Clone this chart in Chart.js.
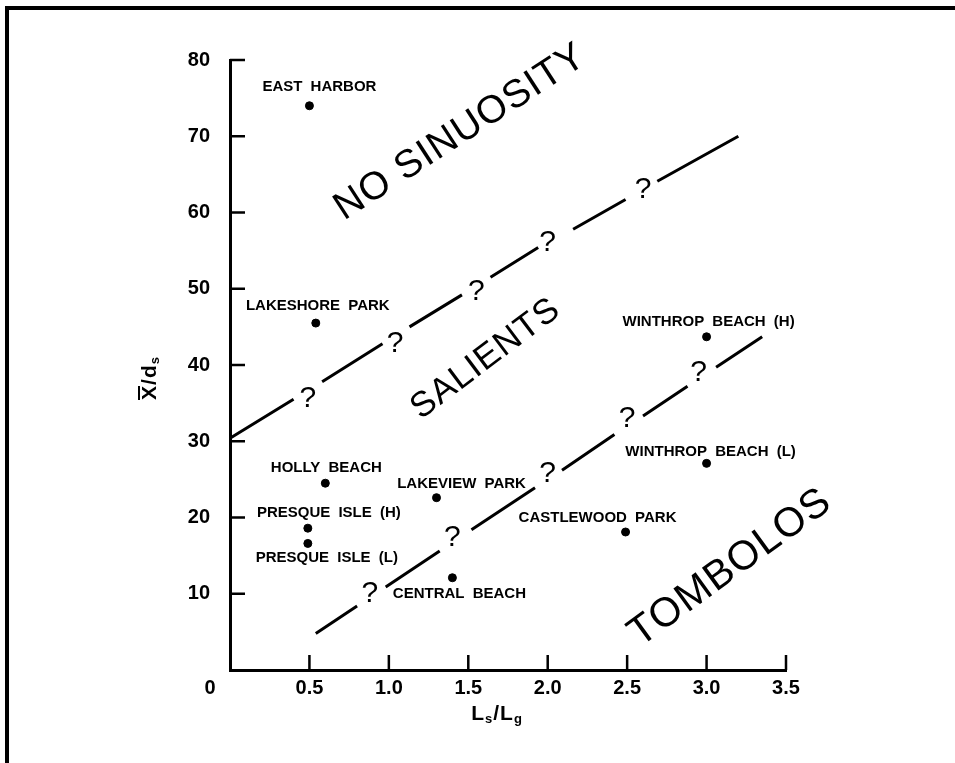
<!DOCTYPE html>
<html>
<head>
<meta charset="UTF-8">
<title>Salients and tombolos</title>
<script src="https://cdn.jsdelivr.net/npm/chart.js@4.4.1/dist/chart.umd.min.js"></script>
<style>
  html, body { margin: 0; padding: 0; background: #fff; }
  #wrap { position: relative; width: 955px; height: 763px; }
</style>
</head>
<body>
<div id="wrap"><canvas id="shoreChart"></canvas></div>
<script>
// values
var siteNames = ['EAST HARBOR', 'LAKESHORE PARK', 'HOLLY BEACH', 'PRESQUE ISLE (H)', 'PRESQUE ISLE (L)',
                 'LAKEVIEW PARK', 'CENTRAL BEACH', 'CASTLEWOOD PARK', 'WINTHROP BEACH (H)', 'WINTHROP BEACH (L)'];
var siteLsLg = [0.5, 0.54, 0.6, 0.49, 0.49, 1.3, 1.4, 2.49, 3.0, 3.0];
var siteXds = [74, 45.5, 24.5, 18.6, 16.6, 22.6, 12.1, 18.1, 43.7, 27.1];

var xTicks = [0, 0.5, 1.0, 1.5, 2.0, 2.5, 3.0, 3.5];
var yTicks = [0, 10, 20, 30, 40, 50, 60, 70, 80];

// dashed boundaries (null = gap where a "?" sits)
var upperX = [0, 0.40, 0.45, 0.58, 0.96, 1.0, 1.13, 1.46, 1.5, 1.64, 1.94, 2.0, 2.16, 2.49, 2.55, 2.69, 3.2];
var upperY = [30.4, 35.5, null, 37.8, 42.8, null, 45.0, 49.2, null, 51.5, 55.4, null, 57.8, 61.7, null, 64.1, 70.0];
var lowerX = [0.54, 0.80, 0.85, 0.98, 1.32, 1.4, 1.52, 1.92, 2.0, 2.09, 2.42, 2.5, 2.60, 2.88, 2.95, 3.06, 3.35];
var lowerY = [4.8, 8.4, null, 10.9, 15.6, null, 18.4, 23.9, null, 26.2, 30.9, null, 33.3, 37.2, null, 39.7, 43.7];

var upperQX = [0.49, 1.04, 1.55, 2.0, 2.6];
var upperQY = [35.6, 42.8, 49.6, 56.0, 63.0];
var lowerQX = [0.88, 1.40, 2.0, 2.5, 2.95];
var lowerQY = [10.0, 17.3, 25.8, 33.0, 39.0];

var regionNames = ['NO SINUOSITY', 'SALIENTS', 'TOMBOLOS'];
var regionX = [1.45, 1.61, 3.15];
var regionY = [70.5, 40.8, 13.4];

// layout only: label offsets in px from each dot, region text sizes and angles
var labelDx = [10, 2, 1, 21, 19, 25, 7, -28, 2, 4];
var labelDy = [-19, -17, -15, -15, 14, -14, 16, -14, -15, -12];
var regionSize = [39, 35, 41];
var regionAngle = [-33, -37, -36];

function pairs(xs, ys) {
    return xs.map(function (x, i) { return { x: x, y: ys[i] }; });
}

var tickFont = { family: '"Liberation Sans", Arial, sans-serif', size: 20, weight: 'bold' };

var overlay = {
    id: 'overlay',
    beforeDraw: function (chart) {
        var ctx = chart.ctx;
        ctx.save();
        ctx.fillStyle = '#fff';
        ctx.fillRect(0, 0, chart.width, chart.height);
        ctx.restore();
    },
    afterDraw: function (chart) {
        var ctx = chart.ctx, xs = chart.scales.x, ys = chart.scales.y, area = chart.chartArea;
        ctx.save();
        ctx.strokeStyle = '#000';
        ctx.fillStyle = '#000';

        // page frame (top and left only)
        ctx.lineWidth = 4;
        ctx.beginPath();
        ctx.moveTo(7, chart.height);
        ctx.lineTo(7, 8);
        ctx.lineTo(chart.width, 8);
        ctx.stroke();

        // inward tick marks
        ctx.lineWidth = 2.5;
        ctx.beginPath();
        xTicks.forEach(function (v) {
            if (v === 0) return;
            var px = xs.getPixelForValue(v);
            ctx.moveTo(px, area.bottom);
            ctx.lineTo(px, area.bottom - 15);
        });
        yTicks.forEach(function (v) {
            if (v === 0) return;
            var py = ys.getPixelForValue(v);
            ctx.moveTo(area.left, py);
            ctx.lineTo(area.left + 15, py);
        });
        ctx.stroke();

        // shared origin label
        ctx.font = 'bold 20px "Liberation Sans", Arial, sans-serif';
        ctx.textAlign = 'center';
        ctx.textBaseline = 'middle';
        ctx.fillText('0', xs.getPixelForValue(0) - 20, area.bottom + 18);

        // site labels
        ctx.font = 'bold 15px "Liberation Sans", Arial, sans-serif';
        ctx.wordSpacing = '4px';
        siteNames.forEach(function (name, i) {
            var px = xs.getPixelForValue(siteLsLg[i]);
            var py = ys.getPixelForValue(siteXds[i]);
            ctx.fillText(name, px + labelDx[i], py + labelDy[i]);
        });
        ctx.wordSpacing = '0px';

        // question marks in the boundary gaps
        ctx.font = '30px "Liberation Sans", Arial, sans-serif';
        function marks(qx, qy) {
            qx.forEach(function (v, i) {
                ctx.fillText('?', xs.getPixelForValue(v), ys.getPixelForValue(qy[i]));
            });
        }
        marks(upperQX, upperQY);
        marks(lowerQX, lowerQY);

        // region names
        ctx.letterSpacing = '1px';
        regionNames.forEach(function (name, i) {
            ctx.save();
            ctx.font = regionSize[i] + 'px "Liberation Sans", Arial, sans-serif';
            ctx.translate(xs.getPixelForValue(regionX[i]), ys.getPixelForValue(regionY[i]));
            ctx.rotate(regionAngle[i] * Math.PI / 180);
            ctx.fillText(name, 0, 0);
            ctx.restore();
        });
        ctx.letterSpacing = '0px';

        // axis titles with subscripts
        var big = 'bold 21px "Liberation Sans", Arial, sans-serif';
        var sub = 'bold 13px "Liberation Sans", Arial, sans-serif';
        function width(parts) {
            var total = 0;
            parts.forEach(function (p) { ctx.font = p[1]; total += ctx.measureText(p[0]).width + 1; });
            return total;
        }
        function drawParts(parts, cx, cy) {
            var x = cx - width(parts) / 2;
            ctx.textAlign = 'left';
            parts.forEach(function (p) {
                ctx.font = p[1];
                ctx.fillText(p[0], x, cy + p[2]);
                x += ctx.measureText(p[0]).width + 1;
            });
        }
        drawParts([['L', big, 0], ['s', sub, 5], ['/', big, 0], ['L', big, 0], ['g', sub, 5]], 497, 714);

        // y title: X-bar/ds, rotated
        var yParts = [['X', big, 0], ['/', big, 0], ['d', big, 0], ['s', sub, 5]];
        ctx.save();
        ctx.translate(150, 378);
        ctx.rotate(-Math.PI / 2);
        drawParts(yParts, 0, 0);
        var tw = width(yParts);
        ctx.font = big;
        var xw = ctx.measureText('X').width;
        ctx.lineWidth = 2;
        ctx.beginPath();
        ctx.moveTo(-tw / 2, -11);
        ctx.lineTo(-tw / 2 + xw, -11);
        ctx.stroke();
        ctx.restore();

        ctx.restore();
    }
};

function ready(fn) {
    if (document.readyState !== 'loading') fn();
    else document.addEventListener('DOMContentLoaded', fn);
}

ready(function () {
    var ctx = document.getElementById('shoreChart').getContext('2d');
    new Chart(ctx, {
        type: 'scatter',
        data: {
            datasets: [
                {
                    label: 'Sites',
                    data: pairs(siteLsLg, siteXds),
                    backgroundColor: '#000',
                    borderColor: '#000',
                    pointRadius: 4,
                    showLine: false
                },
                {
                    label: 'No sinuosity / salients',
                    data: pairs(upperX, upperY),
                    borderColor: '#000',
                    borderWidth: 3,
                    pointRadius: 0,
                    showLine: true,
                    spanGaps: false
                },
                {
                    label: 'Salients / tombolos',
                    data: pairs(lowerX, lowerY),
                    borderColor: '#000',
                    borderWidth: 3,
                    pointRadius: 0,
                    showLine: true,
                    spanGaps: false
                }
            ]
        },
        options: {
            responsive: true,
            maintainAspectRatio: false,
            animation: false,
            layout: { padding: { left: 0, top: 60, right: 169, bottom: 0 } },
            plugins: {
                legend: { display: false },
                tooltip: { enabled: false }
            },
            scales: {
                x: {
                    type: 'linear',
                    min: 0,
                    max: 3.5,
                    afterBuildTicks: function (s) { s.ticks = xTicks.map(function (v) { return { value: v }; }); },
                    afterFit: function (s) { s.height = 93; },
                    grid: { display: false },
                    border: { display: true, color: '#000', width: 3 },
                    ticks: {
                        color: '#000',
                        font: tickFont,
                        padding: -2,
                        maxRotation: 0,
                        callback: function (v) { return v === 0 ? '' : v.toFixed(1); }
                    }
                },
                y: {
                    min: 0,
                    max: 80,
                    afterBuildTicks: function (s) { s.ticks = yTicks.map(function (v) { return { value: v }; }); },
                    afterFit: function (s) { s.width = 230; },
                    grid: { display: false },
                    border: { display: true, color: '#000', width: 3 },
                    ticks: {
                        color: '#000',
                        font: tickFont,
                        padding: 12,
                        callback: function (v) { return v === 0 ? '' : v; }
                    }
                }
            }
        },
        plugins: [overlay]
    });
});
</script>
</body>
</html>
